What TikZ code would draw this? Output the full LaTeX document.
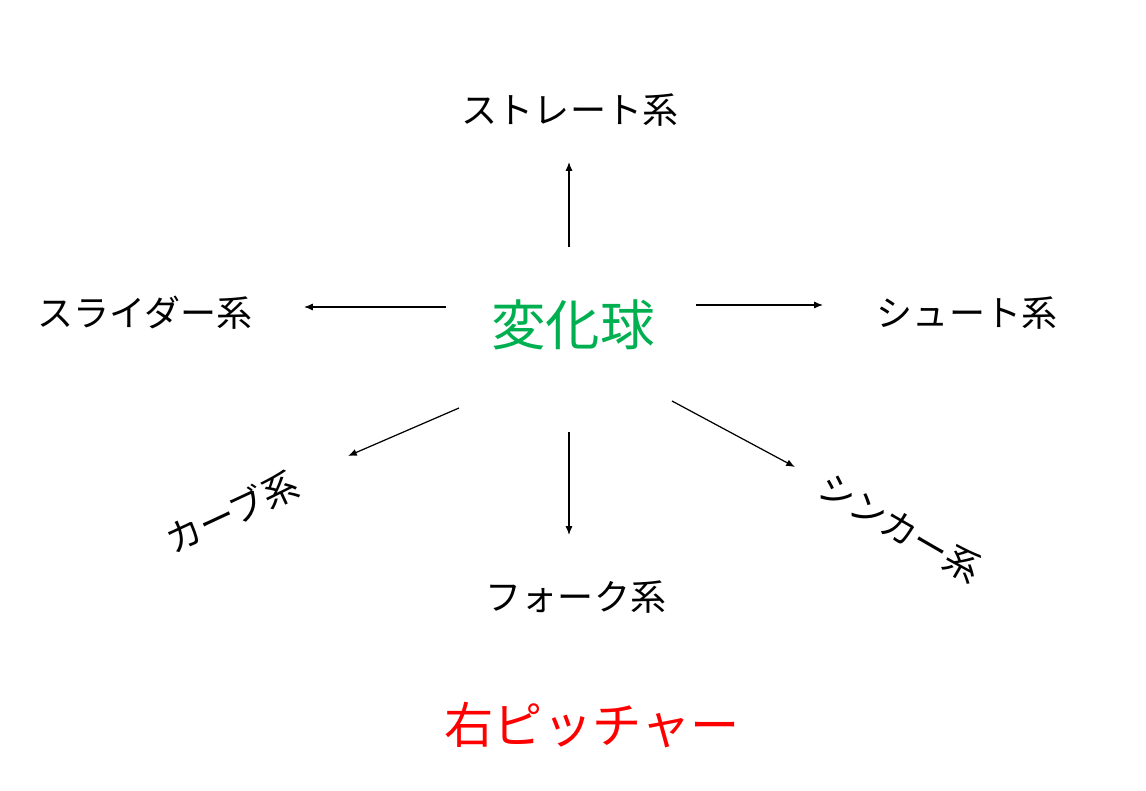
\documentclass[tikz,border=0pt]{standalone}
\usepackage{fontspec}
\newfontfamily\cjk{Noto Sans CJK JP}
\usetikzlibrary{arrows.meta}
\definecolor{ballgreen}{RGB}{0,176,80}
\begin{document}
\begin{tikzpicture}[x=0.02cm,y=-0.02cm,
  every node/.style={font=\cjk},
  kind/.style={font=\cjk\fontsize{20.5}{24}\selectfont},
  arr/.style={-{Latex[length=5pt,width=4pt]},line width=0.7pt}]
  \useasboundingbox (0,0) rectangle (1146,791);
  \node[text=ballgreen,font=\cjk\fontsize{31}{36}\selectfont] (ball) at (573,325) {変化球};
  \node[kind] (straight) at (570,110) {ストレート系};
  \node[kind] (slider) at (145,313) {スライダー系};
  \node[kind] (shoot) at (967,313) {シュート系};
  \node[kind,rotate=25] (curve) at (232,512) {カーブ系};
  \node[kind] (fork) at (576,597) {フォーク系};
  \node[kind,rotate=-30] (sinker) at (900,528) {シンカー系};
  \node[text=red,font=\cjk\fontsize{28}{32}\selectfont] (pitcher) at (592,725) {右ピッチャー};
  % arrow ends
  \coordinate (s1) at (569,247); \coordinate (e1) at (569,162);
  \coordinate (s2) at (446,307); \coordinate (e2) at (304,307);
  \coordinate (s3) at (696,305); \coordinate (e3) at (823,305);
  \coordinate (s4) at (459,408); \coordinate (e4) at (348,456);
  \coordinate (s5) at (569,432); \coordinate (e5) at (569,535);
  \coordinate (s6) at (672,401); \coordinate (e6) at (795,467);
  \foreach \i in {1,...,6}
    \draw[arr] (s\i) -- (e\i);
\end{tikzpicture}
\end{document}
